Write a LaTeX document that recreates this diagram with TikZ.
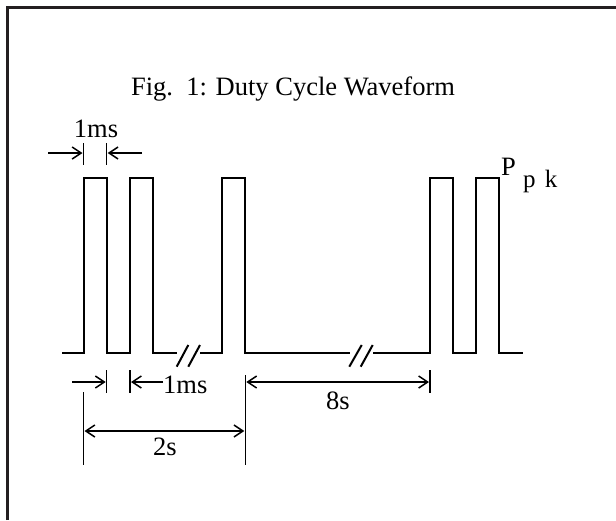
\documentclass[tikz,border=0pt]{standalone}
\usepackage{fontspec}
\setmainfont{Liberation Serif}
\usetikzlibrary{arrows.meta}
\definecolor{framec}{HTML}{231F20}
\begin{document}
\begin{tikzpicture}[x=1pt,y=-1pt,
  wave/.style={line width=2pt, line join=miter, black},
  tick/.style={line width=1.5pt, black},
  dimarrow/.style={line width=1.5pt, black, -{Straight Barb[length=9pt,width=12pt,line width=1.5pt]}},
  dimboth/.style={line width=1.5pt, black, {Straight Barb[length=9pt,width=12pt,line width=1.5pt]}-{Straight Barb[length=9pt,width=12pt,line width=1.5pt]}},
  lbl/.style={font=\fontsize{26.5}{30}\selectfont, inner sep=0pt, anchor=base},
  sublbl/.style={font=\fontsize{25}{29}\selectfont, inner sep=0pt, anchor=base west},
  ]
\useasboundingbox (0,0) rectangle (616,520);
% frame
\draw[line width=3pt, framec] (7,520) -- (7,7) -- (616,7);
% waveform
\draw[wave] (62,353) -- (83.5,353) -- (83.5,178) -- (106.7,178) -- (106.7,353)
  -- (130,353) -- (130,178) -- (153.3,178) -- (153.3,353) -- (177,353);
\draw[wave] (200,353) -- (222.3,353) -- (222.3,178) -- (245.3,178) -- (245.3,353) -- (350,353);
\draw[wave] (373,353) -- (430,353) -- (430,178) -- (453.3,178) -- (453.3,353)
  -- (476,353) -- (476,178) -- (499.3,178) -- (499.3,353) -- (523.3,353);
% break marks
\draw[wave] (176.7,366.7) -- (188.3,345) (188.3,366.7) -- (200,345);
\draw[wave] (349.3,366.7) -- (361.7,345) (360.7,366.7) -- (372.7,345);
% title
\node[lbl] (title) at (293,95) {Fig.\ \ 1: Duty Cycle Waveform};
% top 1ms
\draw[tick] (83.5,143) -- (83.5,165);
\draw[tick] (106.7,143) -- (106.7,165);
\coordinate (t1) at (48,153);
\coordinate (t1e) at (82.5,153);
\coordinate (t2) at (142,153);
\coordinate (t2e) at (107.7,153);
\draw[dimarrow] (t1) -- (t1e);
\draw[dimarrow] (t2) -- (t2e);
\node[lbl] (ms1) at (96,137) {1ms};
% Ppk
\node[lbl, anchor=base west] (P) at (501,175) {P};
\node[sublbl] (pk) at (523,187) {p\hspace{3pt} k};
% bottom 1ms
\draw[tick] (106.7,370) -- (106.7,393);
\draw[tick] (130,370) -- (130,393);
\coordinate (u1) at (72,382);
\coordinate (u1e) at (105.7,382);
\coordinate (u2) at (163,382);
\coordinate (u2e) at (131,382);
\draw[dimarrow] (u1) -- (u1e);
\draw[dimarrow] (u2) -- (u2e);
\node[lbl, anchor=base west] (ms2) at (163,393) {1ms};
% 8s
\draw[tick] (245.3,375) -- (245.3,465);
\draw[tick] (430,370) -- (430,393);
\coordinate (e1) at (246.3,382);
\coordinate (e2) at (429,382);
\draw[dimboth] (e1) -- (e2);
\node[lbl] (s8) at (338,409) {8s};
% 2s
\draw[tick] (83.5,392) -- (83.5,465);
\coordinate (w1) at (84.5,431);
\coordinate (w2) at (244.3,431);
\draw[dimboth] (w1) -- (w2);
\node[lbl] (s2) at (165,455) {2s};
\end{tikzpicture}
\end{document}
